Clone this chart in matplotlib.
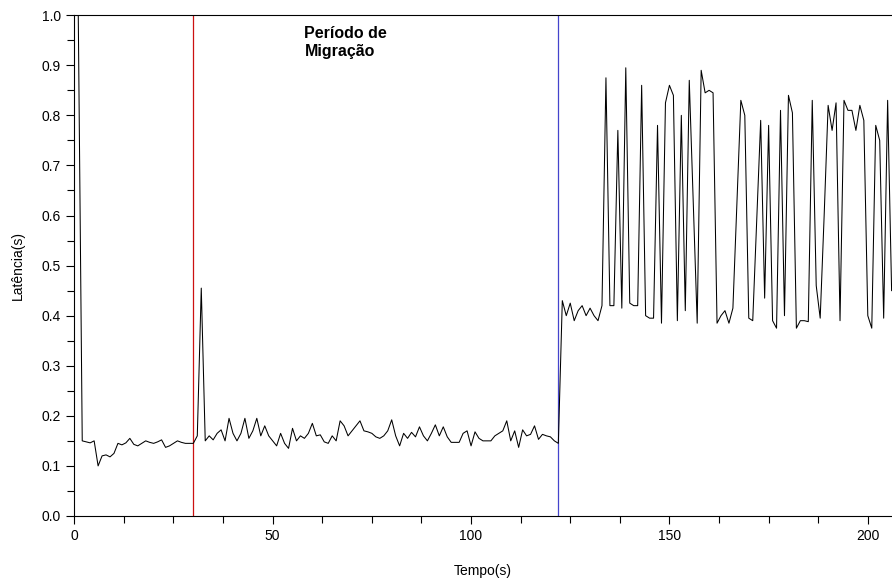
import matplotlib
matplotlib.use("Agg")
import numpy as np
import matplotlib.pyplot as plt
from matplotlib.ticker import MultipleLocator

plt.rcParams['font.family'] = ['Liberation Sans', 'DejaVu Sans']

# latency samples, one per second (t = 0 .. 206)
lat_0_32 = [1.0, 1.0, 0.150, 0.148, 0.146, 0.150, 0.100, 0.120, 0.122, 0.118,
            0.125, 0.145, 0.142, 0.146, 0.155, 0.143, 0.140, 0.145, 0.150, 0.147,
            0.145, 0.148, 0.152, 0.137, 0.140, 0.145, 0.150, 0.147, 0.145, 0.145,
            0.145, 0.160, 0.455]
lat_33_77 = [0.150, 0.160, 0.152, 0.165, 0.172, 0.150, 0.195, 0.165, 0.150, 0.165,
             0.195, 0.155, 0.170, 0.195, 0.160, 0.180, 0.160, 0.150, 0.140, 0.165,
             0.145, 0.135, 0.175, 0.150, 0.160, 0.155, 0.165, 0.185, 0.160, 0.162,
             0.148, 0.145, 0.160, 0.150, 0.190, 0.180, 0.160, 0.170, 0.180, 0.190,
             0.170, 0.168, 0.165, 0.158, 0.155]
lat_78_122 = [0.160, 0.170, 0.192, 0.160, 0.140, 0.165, 0.155, 0.167, 0.158, 0.178,
              0.160, 0.150, 0.165, 0.182, 0.160, 0.178, 0.158, 0.147, 0.147, 0.147,
              0.165, 0.170, 0.140, 0.168, 0.155, 0.150, 0.150, 0.150, 0.160, 0.165,
              0.170, 0.190, 0.150, 0.170, 0.137, 0.172, 0.160, 0.163, 0.180, 0.153,
              0.163, 0.160, 0.158, 0.150, 0.145]
lat_123_161 = [0.430, 0.400, 0.425, 0.390, 0.410, 0.420, 0.400, 0.415, 0.400, 0.390,
               0.420, 0.875, 0.420, 0.420, 0.770, 0.415, 0.895, 0.425, 0.420, 0.420,
               0.860, 0.400, 0.395, 0.395, 0.780, 0.385, 0.825, 0.860, 0.840, 0.390,
               0.800, 0.410, 0.870, 0.630, 0.385, 0.890, 0.845, 0.850, 0.845]
lat_162_206 = [0.385, 0.400, 0.410, 0.385, 0.415, 0.620, 0.830, 0.800, 0.395, 0.390,
               0.590, 0.790, 0.435, 0.780, 0.390, 0.375, 0.810, 0.400, 0.840, 0.805,
               0.375, 0.390, 0.390, 0.388, 0.830, 0.460, 0.395, 0.600, 0.820, 0.770,
               0.825, 0.390, 0.830, 0.810, 0.810, 0.770, 0.820, 0.790, 0.400, 0.375,
               0.780, 0.750, 0.395, 0.830, 0.450]

latency = lat_0_32 + lat_33_77 + lat_78_122 + lat_123_161 + lat_162_206
tempo = np.arange(len(latency))

inicio_migracao = 30
fim_migracao = 122

fig = plt.figure(figsize=(8.92, 5.85), dpi=100)
ax = fig.add_axes([0.0833, 0.118, 0.9167, 0.856])

ax.axvline(inicio_migracao, color='#cc1111', lw=0.9)
ax.axvline(fim_migracao, color='#4444cc', lw=0.9)
ax.plot(tempo, latency, color='black', lw=0.75)

ax.set_xlim(0, 206.1)
ax.set_ylim(0, 1.0)
ax.xaxis.set_major_locator(MultipleLocator(50))
ax.xaxis.set_minor_locator(MultipleLocator(12.5))
ax.yaxis.set_major_locator(MultipleLocator(0.1))
ax.yaxis.set_minor_locator(MultipleLocator(0.05))
ax.yaxis.set_major_formatter(matplotlib.ticker.FormatStrFormatter('%.1f'))
ax.tick_params(which='major', length=6, width=0.8, labelsize=10)
ax.tick_params(which='minor', length=5, width=0.8)
ax.spines['right'].set_visible(False)

ax.set_xlabel('Tempo(s)', fontsize=10, labelpad=15)
ax.set_ylabel('Latência(s)', fontsize=10, labelpad=12)

ax.text(58, 0.978, 'Período de\nMigração', fontsize=11.5, fontweight='bold',
        va='top', ha='left')

fig.savefig('out.png', dpi=100)
